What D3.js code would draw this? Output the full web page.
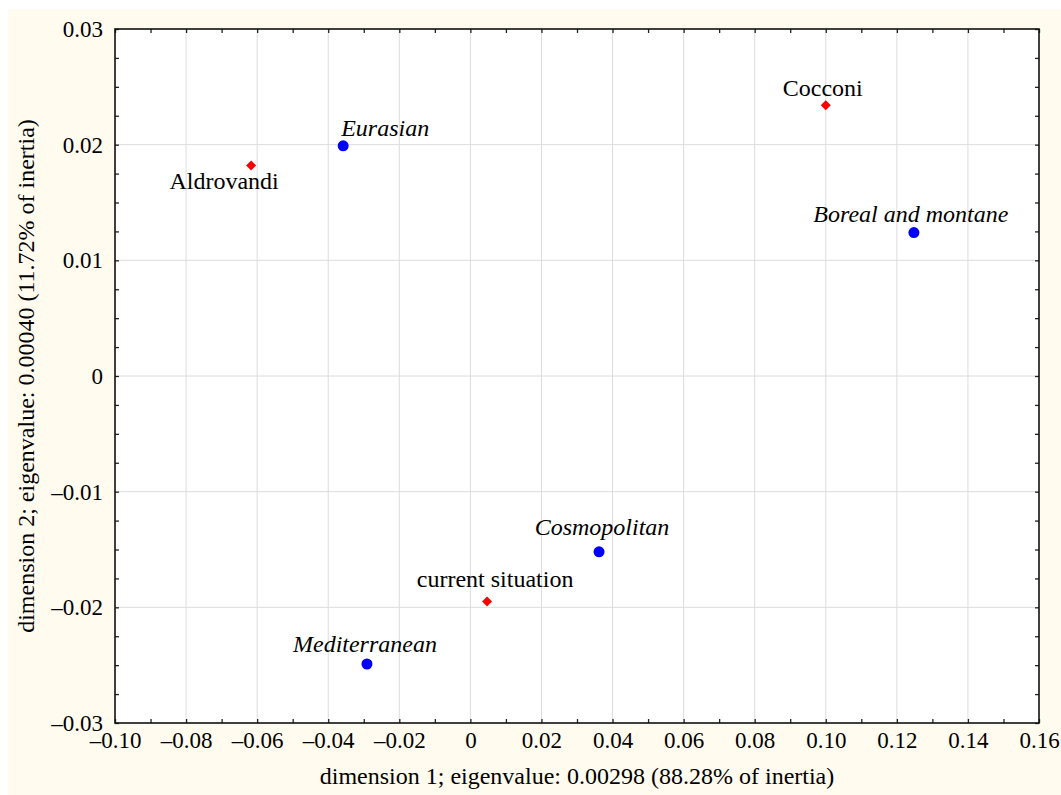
<!DOCTYPE html>
<html>
<head>
<meta charset="utf-8">
<script src="https://cdn.jsdelivr.net/npm/d3@7"></script>
<style>
  body { margin: 0; background: #fff; }
</style>
</head>
<body>
<svg id="chart" width="1061" height="795"></svg>
<script>
// points
const names  = ["Aldrovandi", "Eurasian", "Cocconi", "Boreal and montane", "Cosmopolitan", "current situation", "Mediterranean"];
const dim1   = [-0.0617, -0.0358, 0.1000, 0.1248, 0.0362, 0.0047, -0.0291];
const dim2   = [0.0182, 0.0199, 0.0234, 0.0124, -0.0152, -0.0195, -0.0249];
const kinds  = ["source", "group", "source", "group", "group", "source", "group"];
const xTicks = [-0.10, -0.08, -0.06, -0.04, -0.02, 0, 0.02, 0.04, 0.06, 0.08, 0.10, 0.12, 0.14, 0.16];
const yTicks = [-0.03, -0.02, -0.01, 0, 0.01, 0.02, 0.03];

// label anchor and offset from its marker (px)
const labelPos = {
  "Aldrovandi": ["middle", -27, 24],
  "Eurasian": ["start", -2, -10],
  "Cocconi": ["middle", -3, -9],
  "Boreal and montane": ["middle", -3, -11],
  "Cosmopolitan": ["middle", 3, -17],
  "current situation": ["middle", 8, -15],
  "Mediterranean": ["middle", -2, -12]
};

const serif = "Liberation Serif";
const svg = d3.select("#chart");
const margin = {top: 29, right: 22, bottom: 72, left: 115};
const W = +svg.attr("width"), H = +svg.attr("height");
const w = W - margin.left - margin.right;
const h = H - margin.top - margin.bottom;

// cream page background
svg.append("rect").attr("x", 8).attr("y", 9).attr("width", W - 8).attr("height", H - 9).attr("fill", "#fffcef");

const x = d3.scaleLinear().domain([-0.10, 0.16]).range([0, w]);
const y = d3.scaleLinear().domain([-0.03, 0.03]).range([h, 0]);

const g = svg.append("g").attr("transform", "translate(" + margin.left + "," + margin.top + ")");
g.append("rect").attr("width", w).attr("height", h).attr("fill", "#fff");

// gridlines
g.append("g").selectAll("line").data(xTicks.slice(1, -1)).join("line")
  .attr("x1", d => x(d)).attr("x2", d => x(d)).attr("y1", 0).attr("y2", h)
  .attr("stroke", "#dcdcdc").attr("stroke-width", 1);
g.append("g").selectAll("line").data(yTicks.slice(1, -1)).join("line")
  .attr("y1", d => y(d)).attr("y2", d => y(d)).attr("x1", 0).attr("x2", w)
  .attr("stroke", "#dcdcdc").attr("stroke-width", 1);

const fmt = d => (d === 0 ? "0" : (d < 0 ? "\u2013" : "") + Math.abs(d).toFixed(2));
const xMinor = d3.range(-0.10, 0.1601, 0.01);
const yMinor = d3.range(-0.03, 0.03001, 0.0025);

// inward ticks on all four sides
function inTicks(axis, scale, vals, size) {
  return axis(scale).tickValues(vals).tickSize(-size).tickFormat("");
}
g.append("g").attr("transform", "translate(0," + h + ")").call(inTicks(d3.axisBottom, x, xMinor, 4));
g.append("g").call(inTicks(d3.axisTop, x, xMinor, 4));
g.append("g").call(inTicks(d3.axisLeft, y, yMinor, 4));
g.append("g").attr("transform", "translate(" + w + ",0)").call(inTicks(d3.axisRight, y, yMinor, 4));
g.selectAll(".domain").remove();
g.selectAll(".tick line").attr("stroke", "#222").attr("stroke-width", 1.3);

// labelled axes
const xAxis = g.append("g").attr("transform", "translate(0," + h + ")")
  .call(d3.axisBottom(x).tickValues(xTicks).tickSize(0).tickPadding(9).tickFormat(fmt));
const yAxis = g.append("g")
  .call(d3.axisLeft(y).tickValues(yTicks).tickSize(0).tickPadding(12).tickFormat(fmt));
[xAxis, yAxis].forEach(a => {
  a.attr("font-family", serif).attr("font-size", 23);
  a.select(".domain").remove();
  a.selectAll("text").attr("fill", "#000");
});

// frame
g.append("rect").attr("width", w).attr("height", h).attr("fill", "none").attr("stroke", "#111").attr("stroke-width", 1.6);

// axis titles
svg.append("text").attr("x", margin.left + w / 2).attr("y", 784).attr("text-anchor", "middle")
  .attr("font-family", serif).attr("font-size", 24)
  .text("dimension 1; eigenvalue: 0.00298 (88.28% of inertia)");
svg.append("text").attr("transform", "translate(34," + (margin.top + h / 2) + ") rotate(-90)")
  .attr("text-anchor", "middle").attr("font-family", serif).attr("font-size", 24)
  .text("dimension 2; eigenvalue: 0.00040 (11.72% of inertia)");

// markers
const pts = names.map((n, i) => ({name: n, x: dim1[i], y: dim2[i], kind: kinds[i]}));
const mk = g.append("g").selectAll("g").data(pts).join("g")
  .attr("transform", d => "translate(" + x(d.x) + "," + y(d.y) + ")");
mk.filter(d => d.kind === "group").append("circle").attr("r", 5.5).attr("fill", "#0000ff");
mk.filter(d => d.kind === "source").append("path").attr("d", "M0,-5L5,0L0,5L-5,0Z").attr("fill", "#ff0000");
mk.append("text")
  .attr("text-anchor", d => labelPos[d.name][0])
  .attr("x", d => labelPos[d.name][1]).attr("y", d => labelPos[d.name][2])
  .attr("font-family", serif).attr("font-size", 24)
  .attr("font-style", d => d.kind === "group" ? "italic" : "normal")
  .text(d => d.name);
</script>
</body>
</html>
